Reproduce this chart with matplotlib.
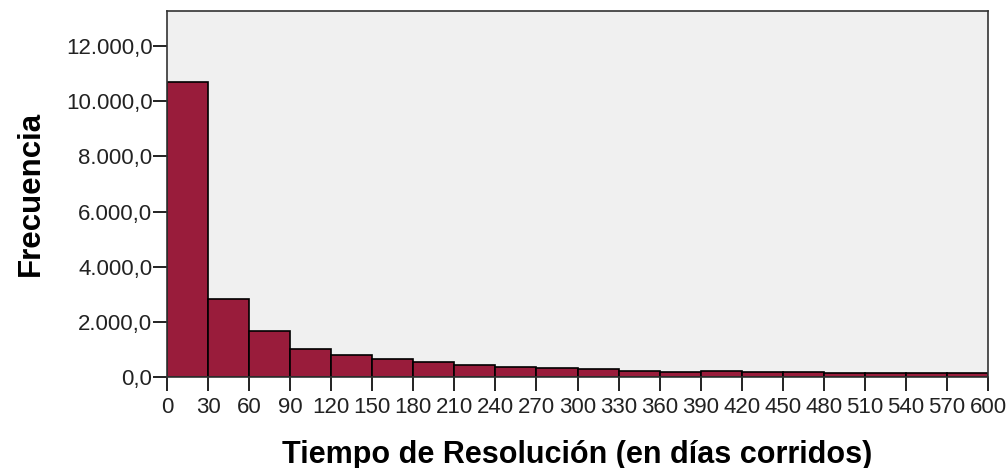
import matplotlib
matplotlib.use("Agg")
import matplotlib.pyplot as plt
from matplotlib.ticker import FuncFormatter
import numpy as np

bin_edges = list(range(0, 601, 30))
frequencies = [10700, 2840, 1660, 1000, 790, 650, 550, 440, 370, 330,
               290, 220, 190, 210, 180, 185, 160, 160, 140, 150]
y_ticks = [0, 2000, 4000, 6000, 8000, 10000, 12000]
x_label = "Tiempo de Resolución (en días corridos)"
y_label = "Frecuencia"

fig = plt.figure(figsize=(10.07, 4.68), dpi=100)
ax = fig.add_axes([167/1007, 1 - 377/468, (988 - 167)/1007, (377 - 11)/468])
ax.set_facecolor("#F0F0F0")

lefts = np.array(bin_edges[:-1])
widths = np.diff(bin_edges)
ax.bar(lefts, frequencies, width=widths, align="edge",
       color="#991C3B", edgecolor="black", linewidth=1.2)

ax.set_xlim(0, 600)
ax.set_ylim(0, 13270)
ax.set_xticks(bin_edges)
ax.set_yticks(y_ticks)

def fmt(v, pos):
    s = f"{v:,.1f}"
    return s.replace(",", "X").replace(".", ",").replace("X", ".")

ax.yaxis.set_major_formatter(FuncFormatter(fmt))
ax.tick_params(axis="both", length=10, width=1.4, color="#222222")
ax.tick_params(axis="y", pad=0.5, labelsize=16)
ax.tick_params(axis="x", pad=4.5, labelsize=16)
for lab in ax.get_xticklabels() + ax.get_yticklabels():
    lab.set_family("Liberation Sans")
    lab.set_color("#222222")

for sp in ax.spines.values():
    sp.set_color("#333333")
    sp.set_linewidth(1.2)

fig.text((167 + 988) / 2 / 1007, 1 - 463 / 468, x_label, ha="center", va="baseline",
         fontsize=22, fontweight="bold", family="Liberation Sans")
fig.text(31 / 1007, 1 - 193 / 468, y_label, ha="center", va="center", rotation=90,
         fontsize=22.5, fontweight="bold", family="Liberation Sans")

fig.savefig("out.png", dpi=100)
